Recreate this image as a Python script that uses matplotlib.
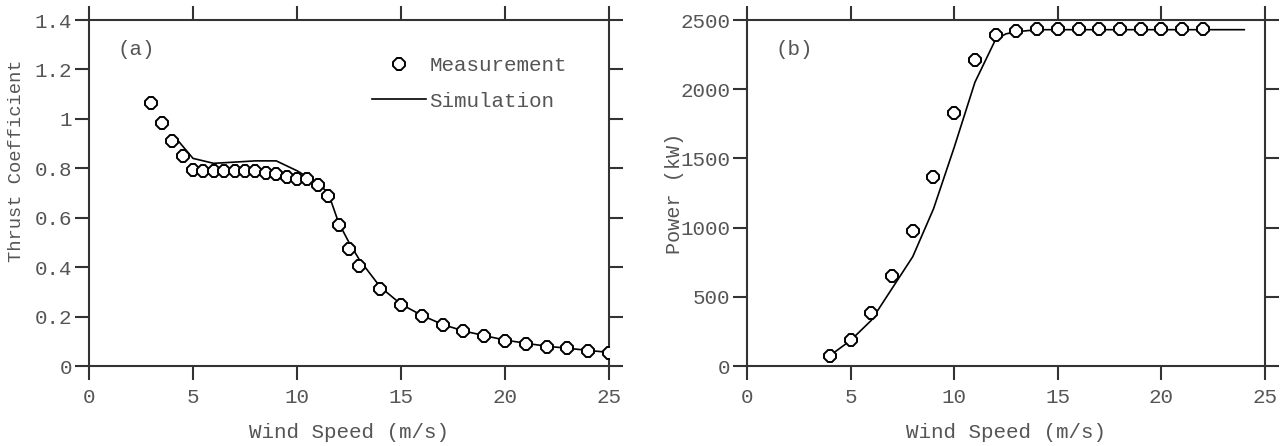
import matplotlib
matplotlib.use("Agg")
import matplotlib.pyplot as plt
from matplotlib.lines import Line2D

# ---- data (a) thrust coefficient ----
ct_meas_ws = [3, 3.5, 4, 4.5, 5, 5.5, 6, 6.5, 7, 7.5, 8, 8.5, 9, 9.5, 10, 10.5,
              11, 11.5, 12, 12.5, 13, 14, 15, 16, 17, 18, 19, 20, 21, 22, 23, 24, 25]
ct_meas = [1.065, 0.984, 0.91, 0.851, 0.795, 0.787, 0.787, 0.788, 0.787, 0.787, 0.787,
           0.782, 0.775, 0.764, 0.757, 0.757, 0.732, 0.687, 0.572, 0.474, 0.405,
           0.312, 0.246, 0.203, 0.165, 0.140, 0.122, 0.103, 0.090, 0.077, 0.072, 0.061, 0.054]
ct_sim_ws = [4.3, 5, 6, 7, 8, 9, 10, 11, 11.5, 12, 12.5, 13, 14, 15, 16, 17, 18, 19,
             20, 21, 22, 23, 24, 25]
ct_sim = [0.91, 0.84, 0.82, 0.825, 0.83, 0.83, 0.79, 0.74, 0.70, 0.58, 0.50, 0.43,
          0.32, 0.25, 0.205, 0.168, 0.142, 0.123, 0.105, 0.092, 0.080, 0.072, 0.063, 0.055]

# ---- data (b) power ----
p_meas_ws = [4, 5, 6, 7, 8, 9, 10, 11, 12, 13, 14, 15, 16, 17, 18, 19, 20, 21, 22]
p_meas = [75, 189, 382, 653, 975, 1362, 1827, 2214, 2391, 2423, 2432, 2432, 2432,
          2432, 2432, 2432, 2432, 2432, 2432]
p_sim_ws = [4, 5, 6, 7, 8, 9, 10, 11, 12, 12.5, 13, 14, 16, 18, 20, 22, 24]
p_sim = [75, 185, 330, 560, 790, 1135, 1580, 2050, 2360, 2400, 2415, 2430, 2430,
         2430, 2430, 2430, 2430]

ct_yticks = [0, 0.2, 0.4, 0.6, 0.8, 1.0, 1.2, 1.4]
ct_yticklabels = ["0", "0.2", "0.4", "0.6", "0.8", "1", "1.2", "1.4"]
p_yticks = [0, 500, 1000, 1500, 2000, 2500]
x_ticks = [0, 5, 10, 15, 20, 25]

FONT = "Liberation Mono"
TXT = "#555555"
FS = 15
plt.rcParams["font.family"] = [FONT, "DejaVu Sans"]

W, H = 1282, 446
fig = plt.figure(figsize=(W / 100, H / 100), dpi=100)

def px_axes(x0, x1, y0, y1):
    return fig.add_axes([x0 / W, 1 - y1 / H, (x1 - x0) / W, (y1 - y0) / H])

ax1 = px_axes(89, 609, 20, 366)
ax2 = px_axes(747, 1265, 20, 366)

mk = dict(marker="8", markersize=9, markerfacecolor="white",
          markeredgecolor="black", markeredgewidth=1.4, linestyle="none")

def style(ax):
    for s in ax.spines.values():
        s.set_color("#333333")
        s.set_linewidth(1.5)
    ax.tick_params(direction="out", length=10, width=1.5, color="#333333",
                   top=True, right=True, labeltop=False, labelright=False,
                   labelsize=FS, labelcolor=TXT)
    ax.tick_params(axis="y", pad=2)
    ax.tick_params(axis="x", pad=6)
    for lab in ax.get_xticklabels() + ax.get_yticklabels():
        lab.set_fontfamily(FONT)

# (a)
ax1.plot(ct_sim_ws, ct_sim, color="black", lw=1.2, zorder=2)
ax1.plot(ct_meas_ws, ct_meas, zorder=3, **mk)
ax1.set_xlim(0, 25)
ax1.set_ylim(0, 1.4)
ax1.set_xticks(x_ticks)
ax1.set_yticks(ct_yticks)
ax1.set_yticklabels(ct_yticklabels)
style(ax1)
ax1.set_xlabel("Wind Speed (m/s)", fontsize=FS, color=TXT, labelpad=11)
ax1.set_ylabel("Thrust Coefficient", fontsize=13.5, color=TXT)
ax1.yaxis.set_label_coords((25 - 89) / 520, (366 - 161) / 346)
ax1.text(0.055, 0.915, "(a)", transform=ax1.transAxes, fontsize=FS, color=TXT,
         va="center", ha="left")
handles = [Line2D([], [], **mk), Line2D([], [], color="black", lw=1.2)]
leg = ax1.legend(handles, ["Measurement", "Simulation"], loc="upper right",
                 bbox_to_anchor=(0.955, 0.95), frameon=False, fontsize=FS,
                 handlelength=2.6, handletextpad=0.15, labelspacing=0.8,
                 numpoints=1)
for t in leg.get_texts():
    t.set_color(TXT)

# (b)
ax2.plot(p_sim_ws, p_sim, color="black", lw=1.2, zorder=2)
ax2.plot(p_meas_ws, p_meas, zorder=3, **mk)
ax2.set_xlim(0, 25)
ax2.set_ylim(0, 2500)
ax2.set_xticks(x_ticks)
ax2.set_yticks(p_yticks)
style(ax2)
ax2.set_xlabel("Wind Speed (m/s)", fontsize=FS, color=TXT, labelpad=11)
ax2.set_ylabel("Power (kW)", fontsize=14.5, color=TXT)
ax2.yaxis.set_label_coords((684 - 747) / 518, 0.5)
ax2.text(0.055, 0.915, "(b)", transform=ax2.transAxes, fontsize=FS, color=TXT,
         va="center", ha="left")

fig.savefig("out.png", dpi=100)
